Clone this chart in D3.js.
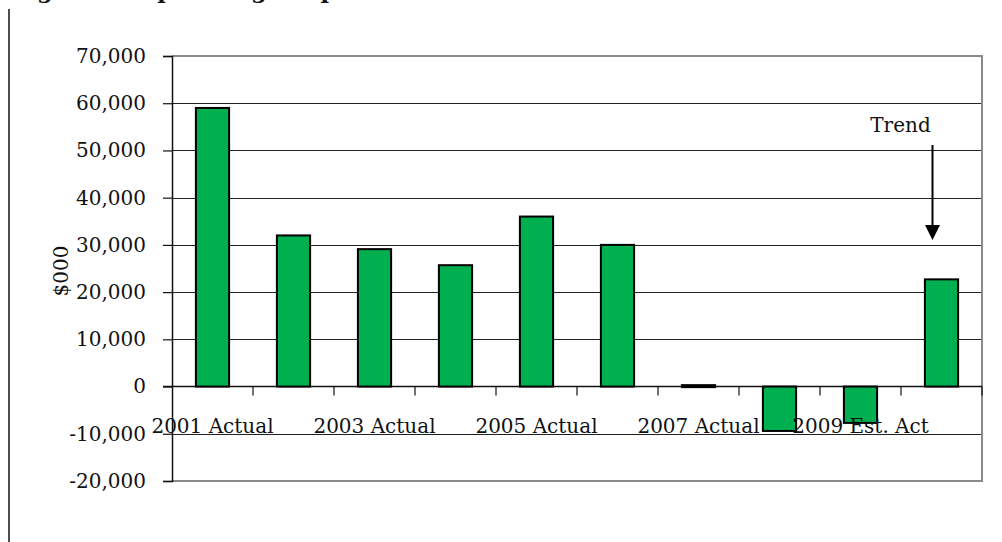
<!DOCTYPE html>
<html>
<head>
<meta charset="utf-8">
<script src="https://cdn.jsdelivr.net/npm/d3@7"></script>
<style>
  body { margin: 0; background: #fff; }
  svg text { font-family: "DejaVu Serif", serif; fill: #111; }
</style>
</head>
<body>
<svg width="1002" height="542"></svg>
<script>
// chart data
const categories = ["2001 Actual", "2002 Actual", "2003 Actual", "2004 Actual", "2005 Actual",
                    "2006 Actual", "2007 Actual", "2008 Actual", "2009 Est. Act", "2010 Trend"];
const values = [59000, 32000, 29100, 25700, 36000, 30000, 300, -9400, -7700, 22700];
const yTicks = [-20000, -10000, 0, 10000, 20000, 30000, 40000, 50000, 60000, 70000];
const shownLabels = ["2001 Actual", "2003 Actual", "2005 Actual", "2007 Actual", "2009 Est. Act"];

const svg = d3.select("svg");
const plot = { left: 172, right: 982, top: 56, bottom: 481 };

const x = d3.scaleBand().domain(categories).range([plot.left, plot.right]).paddingInner(0.59).paddingOuter(0.295);
const xb = d3.scaleBand().domain(categories).range([plot.left, plot.right]);
const y = d3.scaleLinear().domain([-20000, 70000]).range([plot.bottom, plot.top]);

// title, cut off by the top edge in the original page
svg.append("text")
    .attr("x", 12)
    .attr("y", -2)
    .style("font-size", "23px")
    .style("font-weight", "bold")
    .text("Figure 3: Operating Surplus");

// frame line on the left of the page
svg.append("line")
    .attr("x1", 9).attr("x2", 9)
    .attr("y1", 9).attr("y2", 542)
    .attr("stroke", "#111").attr("stroke-width", 1.5);

// gridlines
svg.append("g")
    .selectAll("line")
    .data(yTicks.filter(d => d !== 0 && d !== -20000 && d !== 70000))
    .join("line")
    .attr("x1", plot.left).attr("x2", plot.right)
    .attr("y1", d => Math.round(y(d)) + 0.5).attr("y2", d => Math.round(y(d)) + 0.5)
    .attr("stroke", "#222").attr("stroke-width", 1.2);

// plot border (grey)
svg.append("path")
    .attr("d", `M${plot.left},${plot.top}H${plot.right}V${plot.bottom}H${plot.left}`)
    .attr("fill", "none")
    .attr("stroke", "#8a8a8a").attr("stroke-width", 2);

// y axis
const yAxis = svg.append("g")
    .attr("transform", `translate(${plot.left},0)`)
    .call(d3.axisLeft(y).tickValues(yTicks).tickSize(9).tickPadding(17)
        .tickFormat(d3.format(",")));
yAxis.select(".domain").attr("stroke", "#111").attr("stroke-width", 1.5);
yAxis.selectAll(".tick line").attr("stroke", "#111").attr("stroke-width", 1.2);
yAxis.selectAll(".tick text")
    .style("font-family", "DejaVu Serif, serif")
    .style("font-size", "20px")
    .attr("fill", "#111")
    .text(d => d < 0 ? "-" + d3.format(",")(-d) : d3.format(",")(d));

// zero line with category ticks
svg.append("line")
    .attr("x1", plot.left - 9).attr("x2", plot.right)
    .attr("y1", y(0)).attr("y2", y(0))
    .attr("stroke", "#111").attr("stroke-width", 1.5);
svg.append("g")
    .selectAll("line")
    .data(categories.slice(1).concat(["end"]))
    .join("line")
    .attr("x1", d => d === "end" ? plot.right : xb(d))
    .attr("x2", d => d === "end" ? plot.right : xb(d))
    .attr("y1", y(0)).attr("y2", y(0) + 9)
    .attr("stroke", "#111").attr("stroke-width", 1.2);

// bars
svg.append("g")
    .selectAll("rect")
    .data(categories)
    .join("rect")
    .attr("x", d => x(d))
    .attr("width", x.bandwidth())
    .attr("y", (d, i) => y(Math.max(0, values[i])))
    .attr("height", (d, i) => Math.max(2, Math.abs(y(values[i]) - y(0))))
    .attr("fill", "#00b050")
    .attr("stroke", "#000")
    .attr("stroke-width", 2);

// category labels (every other one fits)
svg.append("g")
    .selectAll("text")
    .data(shownLabels)
    .join("text")
    .attr("x", d => xb(d) + xb.bandwidth() / 2)
    .attr("y", 433)
    .attr("text-anchor", "middle")
    .style("font-size", "20px")
    .text(d => d);

// y label
svg.append("text")
    .attr("transform", "translate(68,271) rotate(-90)")
    .attr("text-anchor", "middle")
    .style("font-size", "20px")
    .text("$000");

// trend annotation
const last = categories[categories.length - 1];
const ax = xb(last) + xb.bandwidth() / 2 - 9;
svg.append("text")
    .attr("x", ax - 32)
    .attr("y", 132)
    .attr("text-anchor", "middle")
    .style("font-size", "20px")
    .text("Trend");
svg.append("line")
    .attr("x1", ax).attr("x2", ax)
    .attr("y1", 145).attr("y2", 228)
    .attr("stroke", "#000").attr("stroke-width", 2);
svg.append("path")
    .attr("d", `M${ax - 7.5},225L${ax + 7.5},225L${ax},240Z`)
    .attr("fill", "#000");
</script>
</body>
</html>
